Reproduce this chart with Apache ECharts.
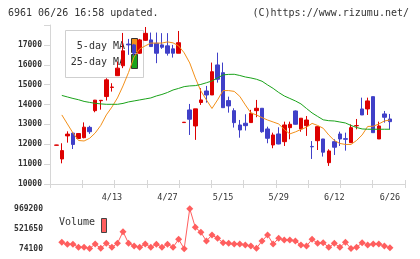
<!DOCTYPE html>
<html><head><meta charset="utf-8">
<script src="https://cdn.jsdelivr.net/npm/echarts@6/dist/echarts.min.js"></script>
<style>html,body{margin:0;padding:0;background:#fff}#c{width:420px;height:259px}</style>
</head><body><div id="c"></div>
<script>
const dates = ['3/30','3/31','4/1','4/2','4/3','4/6','4/7','4/8','4/9','4/10',
  '4/13','4/14','4/15','4/16','4/17','4/20','4/21','4/22','4/23','4/24',
  '4/27','4/28','4/30','5/1','5/7','5/8','5/11','5/12','5/13','5/14',
  '5/15','5/18','5/19','5/20','5/21','5/22','5/25','5/26','5/27','5/28',
  '5/29','6/1','6/2','6/3','6/4','6/5','6/8','6/9','6/10','6/11',
  '6/12','6/15','6/16','6/17','6/18','6/19','6/22','6/23','6/24','6/25','6/26'];
const opens = [11950,11260,12420,12560,12290,12330,12850,13690,14190,14400,
  14860,15450,15950,17040,17000,16580,17230,17250,17080,17000,
  16950,16800,16580,13090,13726,12920,14100,14680,14480,15990,
  15600,14195,13690,12970,13056,13090,13690,13810,12769,11964,
  12517,12130,12835,13675,12770,12935,11890,12180,12265,11073,
  12130,12517,12280,12080,12930,13776,13776,14395,12265,13525,13272];
const closes = [11960,11680,12510,11990,12540,12860,12630,14220,14210,15240,
  14880,15830,16700,17000,16580,17250,17580,16915,16580,16880,
  16580,16580,17110,13110,13258,13780,14230,14480,15650,15270,
  13840,13927,13087,12719,12935,13560,13810,12630,12300,12467,
  12014,12970,13005,13005,13310,13220,11870,12885,11600,11662,
  11850,12265,12250,12835,12940,13474,14180,12583,12920,13358,13137];
const lows = [11940,11040,12080,11760,12280,12300,12520,13610,13740,14200,
  14650,15440,15830,16500,16450,16550,17200,16900,16080,16800,
  16460,16360,16580,13090,12467,12220,13980,14095,14480,15100,
  13840,13590,12840,12330,12690,13087,13360,12580,12050,11800,
  12000,11913,12250,12990,12630,12420,11260,11710,11380,10910,
  11460,11913,11678,12080,12752,13470,13474,12583,12265,13087,12750];
const highs = [11970,12050,12650,12600,12560,13100,12930,14230,14220,15320,
  15070,16160,17600,17300,17050,17300,17900,17620,17620,17590,
  17590,17000,17700,13110,14028,13780,14820,14934,16110,16610,
  16110,14395,13810,13222,13510,13730,14230,13810,12885,12583,
  12855,13137,13137,13700,13310,13420,12160,12890,12270,11746,
  12250,12633,12583,13000,13272,14345,14345,14395,13137,13675,13525];
const ma5 = [null,13475,13020,12567,12190,12165,12300,12567,12945,13475,
  13870,14330,14935,15615,16395,16800,16950,17090,17090,17090,
  17150,17100,16950,16600,16090,15340,14680,14230,13800,14230,
  14700,14700,14660,14410,13980,13575,13475,13340,13220,13120,
  13020,12745,12520,12620,12745,12855,13050,12945,12805,12467,
  12190,12040,11990,11990,12190,12467,12895,12905,13020,13170,13220];
const ma25 = [null,14456,14380,14305,14240,14155,14105,14060,14030,14010,
  14010,14010,14055,14130,14180,14230,14280,14330,14430,14505,
  14605,14730,14810,14900,14935,14950,15010,15095,15185,15335,
  15490,15515,15520,15460,15385,15335,15270,15170,14985,14810,
  14605,14430,14305,14180,14030,13800,13575,13400,13230,13185,
  13170,13120,13070,12945,12845,12770,12755,12755,12755,12755,12755];
const volume = [null,217300,172600,172600,105400,105400,80000,179300,83100,194900,
  105400,194900,454500,194900,134500,105400,179300,105400,172600,105400,
  172600,105400,284400,74100,969200,553000,441100,246400,380700,306800,
  208400,194900,179300,179300,156900,134500,83100,246400,380700,179300,
  306800,268800,268800,246400,156900,134500,284400,194900,208400,105400,
  194900,105400,217300,78000,105400,208400,156900,179300,179300,134500,96500];
const priceTicks = [10000,11000,12000,13000,14000,15000,16000,17000];
const volTicks = [74100,521650,969200];
const dateLabels = ['4/13','4/27','5/15','5/29','6/12','6/26'];

const mono = '"DejaVu Sans Mono", monospace';
const axisGrey = '#d6d6d6';
const UP = '#dd0000', DOWN = '#4040c8';
const ORANGE = '#f39019', GREEN = '#1aa31a', VOL = '#ff5e5e';

const candleData = dates.map((d, i) => [opens[i], closes[i], lows[i], highs[i]]);
const pMin = priceTicks[0], pMax = 18000;

const chart = echarts.init(document.getElementById('c'), null, {renderer: 'canvas'});
chart.setOption({
  animation: false,
  backgroundColor: '#fff',
  grid: [
    {left: 50, right: 15, top: 25, bottom: 75},
    {left: 53.5, right: 27.3, top: 25, bottom: 75},
    {left: 50, right: 15, top: 208.7, bottom: 10.3},
    {left: 53.5, right: 27.3, top: 208.7, bottom: 10.3}
  ],
  xAxis: [
    {gridIndex: 0, type: 'value', min: 0, max: 11, interval: 1, position: 'bottom',
      axisLine: {show: true, lineStyle: {color: axisGrey}}, axisTick: {show: true, inside: true, length: 4, lineStyle: {color: axisGrey}},
      axisLabel: {show: false}, splitLine: {show: false}},
    {gridIndex: 0, type: 'value', min: 0, max: 11, interval: 1, position: 'bottom',
      axisLine: {show: false}, axisTick: {show: true, inside: false, length: 4, lineStyle: {color: axisGrey}},
      axisLabel: {show: false}, splitLine: {show: false}},
    {gridIndex: 1, type: 'category', data: dates, boundaryGap: true, position: 'bottom',
      axisLine: {show: false}, axisTick: {show: false}, splitLine: {show: false},
      axisLabel: {interval: 0, margin: 9, fontFamily: mono, fontSize: 8.5, color: '#333',
        formatter: v => dateLabels.indexOf(v) >= 0 ? v : ''}},
    {gridIndex: 2, type: 'value', min: 0, max: 11, show: false},
    {gridIndex: 3, type: 'category', data: dates, boundaryGap: true, show: false}
  ],
  yAxis: [
    {gridIndex: 0, type: 'value', min: pMin, max: pMax, interval: 1000,
      axisLine: {show: true, lineStyle: {color: axisGrey}},
      axisTick: {show: true, length: 6, lineStyle: {color: axisGrey}},
      axisLabel: {margin: 8, fontFamily: mono, fontSize: 8, fontWeight: 'bold', color: '#333',
        formatter: v => priceTicks.indexOf(v) >= 0 ? String(v) : ''},
      splitLine: {show: false}},
    {gridIndex: 0, type: 'value', min: pMin, max: pMax, interval: 1000,
      axisLine: {show: false}, axisTick: {show: true, inside: true, length: 3, lineStyle: {color: axisGrey}},
      axisLabel: {show: false}, splitLine: {show: false}},
    {gridIndex: 1, type: 'value', min: pMin, max: pMax, show: false},
    {gridIndex: 2, type: 'value', min: 0, max: volTicks.length - 1, interval: 1,
      axisLine: {show: false}, axisTick: {show: false}, splitLine: {show: false},
      axisLabel: {margin: 7, fontFamily: mono, fontSize: 8, fontWeight: 'bold', color: '#333',
        formatter: v => String(volTicks[v])}},
    {gridIndex: 3, type: 'value', min: volTicks[0], max: volTicks[volTicks.length - 1], show: false}
  ],
  series: [
    {type: 'candlestick', xAxisIndex: 2, yAxisIndex: 2, data: candleData, barWidth: 4,
      itemStyle: {color: UP, color0: DOWN, borderColor: UP, borderColor0: DOWN, borderWidth: 1}, z: 3},
    {type: 'line', name: '5-day MA', xAxisIndex: 2, yAxisIndex: 2, data: ma5, showSymbol: false, symbol: 'none',
      lineStyle: {color: ORANGE, width: 1}, z: 4},
    {type: 'line', name: '25-day MA', xAxisIndex: 2, yAxisIndex: 2, data: ma25, showSymbol: false, symbol: 'none',
      lineStyle: {color: GREEN, width: 1}, z: 4},
    {type: 'line', name: 'Volume', xAxisIndex: 4, yAxisIndex: 4, data: volume, symbol: 'diamond', symbolSize: 7,
      showSymbol: true, showAllSymbol: true,
      itemStyle: {color: VOL}, lineStyle: {color: VOL, width: 1}, z: 4}
  ],
  graphic: [
    {type: 'text', x: 8, y: 13, z: 10, style: {text: '6961 06/26 16:58 updated.', font: '10px ' + mono, fill: '#333', verticalAlign: 'middle'}},
    {type: 'text', x: 409, y: 13, z: 10, style: {text: '(C)https://www.rizumu.net/', font: '10px ' + mono, fill: '#333', align: 'right', verticalAlign: 'middle'}},
    {type: 'rect', z: 1, shape: {x: 65.5, y: 30.5, width: 78, height: 47}, style: {fill: '#fff', stroke: '#cfcfcf', lineWidth: 1}},
    {type: 'text', z: 1, x: 125, y: 46, style: {text: '5-day MA', font: '10px ' + mono, fill: '#333', align: 'right', verticalAlign: 'middle'}},
    {type: 'text', z: 1, x: 125, y: 62.5, style: {text: '25-day MA', font: '10px ' + mono, fill: '#333', align: 'right', verticalAlign: 'middle'}},
    {type: 'rect', z: 1, shape: {x: 131.5, y: 38.5, width: 6, height: 14}, style: {fill: ORANGE, stroke: '#333', lineWidth: 1}},
    {type: 'rect', z: 1, shape: {x: 131.5, y: 54.5, width: 6, height: 14}, style: {fill: GREEN, stroke: '#333', lineWidth: 1}},
    {type: 'text', z: 10, x: 59, y: 222, style: {text: 'Volume', font: '10px ' + mono, fill: '#333', verticalAlign: 'middle'}},
    {type: 'rect', z: 10, shape: {x: 101.5, y: 218.5, width: 5, height: 14}, style: {fill: VOL, stroke: '#444', lineWidth: 1}}
  ]
});
</script>
</body></html>
